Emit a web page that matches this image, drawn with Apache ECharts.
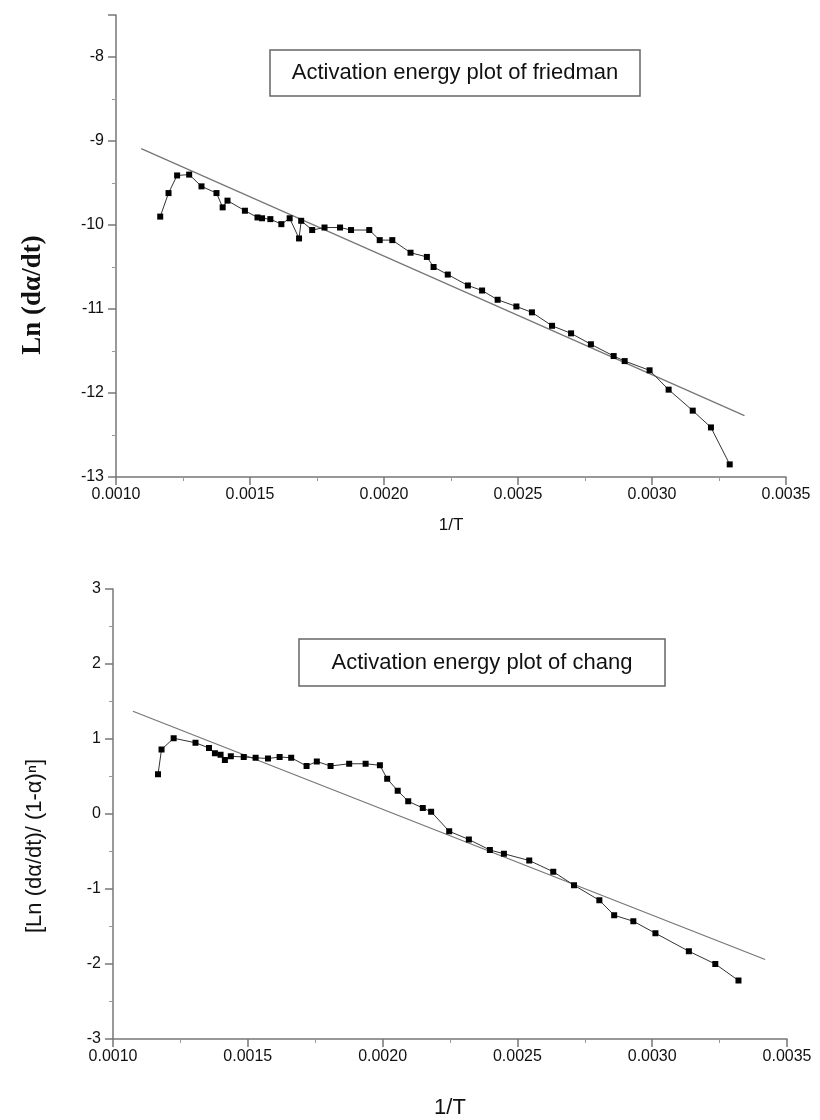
<!DOCTYPE html>
<html>
<head>
<meta charset="utf-8">
<script src="https://cdn.jsdelivr.net/npm/echarts@6/dist/echarts.min.js"></script>
<style>
  html, body { margin: 0; padding: 0; background: #fff; }
  #chart { width: 820px; height: 1120px; }
</style>
</head>
<body>
<div id="chart"></div>
<script>
// Friedman plot: 1/T vs Ln(da/dt)
const friedmanX = [0.001165, 0.001196, 0.001228, 0.001273, 0.001319, 0.001375, 0.001398, 0.001416, 0.001481, 0.001528,
  0.001545, 0.001576, 0.001617, 0.001648, 0.001683, 0.001691, 0.001732, 0.001778, 0.001836, 0.001877,
  0.001945, 0.001984, 0.002031, 0.002099, 0.002160, 0.002185, 0.002238, 0.002313, 0.002366, 0.002424,
  0.002494, 0.002552, 0.002627, 0.002698, 0.002772, 0.002857, 0.002898, 0.002991, 0.003062, 0.003152,
  0.003220, 0.003290];
const friedmanY = [-9.90, -9.62, -9.41, -9.40, -9.54, -9.62, -9.79, -9.71, -9.83, -9.91,
  -9.92, -9.93, -9.99, -9.92, -10.16, -9.95, -10.06, -10.03, -10.03, -10.06,
  -10.06, -10.18, -10.18, -10.33, -10.38, -10.50, -10.59, -10.72, -10.78, -10.89,
  -10.97, -11.04, -11.20, -11.29, -11.42, -11.56, -11.62, -11.73, -11.96, -12.21,
  -12.41, -12.85];
const friedmanFitX = [0.001094, 0.003345];
const friedmanFitY = [-9.09, -12.27];

// Chang plot: 1/T vs Ln(da/dt)/(1-a)^n
const changX = [0.001167, 0.001180, 0.001225, 0.001306, 0.001356, 0.001378, 0.001399, 0.001415, 0.001437, 0.001485,
  0.001529, 0.001575, 0.001618, 0.001661, 0.001718, 0.001756, 0.001807, 0.001876, 0.001937, 0.001990,
  0.002017, 0.002056, 0.002095, 0.002149, 0.002180, 0.002247, 0.002320, 0.002398, 0.002450, 0.002544,
  0.002633, 0.002710, 0.002804, 0.002859, 0.002930, 0.003012, 0.003136, 0.003234, 0.003320];
const changY = [0.53, 0.86, 1.01, 0.95, 0.88, 0.81, 0.79, 0.72, 0.77, 0.76,
  0.75, 0.74, 0.76, 0.75, 0.64, 0.70, 0.64, 0.67, 0.67, 0.65,
  0.47, 0.31, 0.17, 0.08, 0.03, -0.23, -0.34, -0.48, -0.53, -0.62,
  -0.77, -0.95, -1.15, -1.35, -1.43, -1.59, -1.83, -2.00, -2.22];
const changFitX = [0.001074, 0.003419];
const changFitY = [1.37, -1.94];

const xTicks = { min: 0.0010, max: 0.0035, interval: 0.0005 };

function pairs(xs, ys) {
  return xs.map((x, i) => [x, ys[i]]);
}

function makeXAxis(gridIndex, nameSize, nameGap) {
  return {
    type: 'value',
    gridIndex: gridIndex,
    min: xTicks.min, max: xTicks.max, interval: xTicks.interval,
    name: '1/T',
    nameLocation: 'middle',
    nameGap: nameGap,
    nameTextStyle: { fontFamily: 'Liberation Sans', fontSize: nameSize, color: '#111' },
    axisLine: { onZero: false, lineStyle: { color: '#777', width: 1.5 } },
    axisTick: { length: 8, lineStyle: { color: '#777', width: 1.5 } },
    minorTick: { show: true, splitNumber: 2, length: 4, lineStyle: { color: '#999' } },
    splitLine: { show: false },
    axisLabel: { formatter: v => v.toFixed(4), fontFamily: 'Liberation Sans', fontSize: 16, color: '#111', margin: 10 }
  };
}

function makeYAxis(gridIndex, min, max) {
  return {
    type: 'value',
    gridIndex: gridIndex,
    min: min, max: max, interval: 1,
    axisLine: { show: true, onZero: false, lineStyle: { color: '#777', width: 1.5 } },
    axisTick: { show: true, length: 8, lineStyle: { color: '#777', width: 1.5 } },
    minorTick: { show: true, splitNumber: 2, length: 4, lineStyle: { color: '#999' } },
    splitLine: { show: false },
    axisLabel: {
      formatter: v => (Number.isInteger(v) ? String(v) : ''),
      fontFamily: 'Liberation Sans', fontSize: 16, color: '#111', margin: 12
    }
  };
}

function dataSeries(idx, data) {
  return {
    type: 'line', xAxisIndex: idx, yAxisIndex: idx,
    data: data,
    symbol: 'rect', symbolSize: 6,
    itemStyle: { color: '#000' },
    lineStyle: { color: '#333', width: 1 },
    silent: true
  };
}

function fitSeries(idx, data) {
  return {
    type: 'line', xAxisIndex: idx, yAxisIndex: idx,
    data: data,
    showSymbol: false,
    lineStyle: { color: '#777', width: 1.3 },
    silent: true
  };
}

function legendBox(x, y, w, h, label) {
  return {
    type: 'group',
    children: [
      { type: 'rect', shape: { x: x, y: y, width: w, height: h },
        style: { fill: 'none', stroke: '#666', lineWidth: 1.5 } },
      { type: 'text', x: x + w / 2, y: y + h / 2,
        style: { text: label, font: '22px "Liberation Sans"', fill: '#111', align: 'center', verticalAlign: 'middle' } }
    ]
  };
}

const chart = echarts.init(document.getElementById('chart'));
chart.setOption({
  animation: false,
  backgroundColor: '#fff',
  grid: [
    { left: 116, top: 15, width: 670, height: 462 },
    { left: 113, top: 589, width: 674, height: 454 }
  ],
  xAxis: [makeXAxis(0, 17, 40), makeXAxis(1, 22, 58)],
  yAxis: [makeYAxis(0, -13, -7.5), makeYAxis(1, -3, 3)],
  series: [
    fitSeries(0, pairs(friedmanFitX, friedmanFitY)),
    dataSeries(0, pairs(friedmanX, friedmanY)),
    fitSeries(1, pairs(changFitX, changFitY)),
    dataSeries(1, pairs(changX, changY))
  ],
  graphic: [
    legendBox(270, 50, 370, 46, 'Activation energy plot of friedman'),
    legendBox(299, 639, 366, 47, 'Activation energy plot of chang'),
    { type: 'text', x: 33, y: 295, rotation: Math.PI / 2,
      style: { text: 'Ln (dα/dt)', font: 'bold 27px "Liberation Serif"', fill: '#111', align: 'center', verticalAlign: 'middle' } },
    { type: 'text', x: 35, y: 846, rotation: Math.PI / 2,
      style: { text: '[Ln (dα/dt)/ (1-α)ⁿ]', font: '22px "Liberation Sans"', fill: '#111', align: 'center', verticalAlign: 'middle' } }
  ]
});
</script>
</body>
</html>
